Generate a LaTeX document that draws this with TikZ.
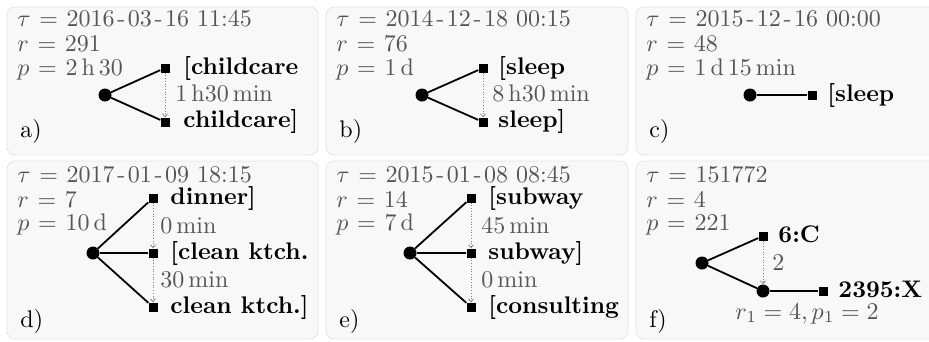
\documentclass[tikz,border=0pt]{standalone}
\usetikzlibrary{arrows.meta}
\definecolor{panelfill}{HTML}{F8F8F8}
\definecolor{panelline}{HTML}{E4E4E4}
\definecolor{infogray}{HTML}{555555}
\newcommand\datehy{\kern1.1pt-\kern1.1pt}
\newcommand\eqsp{\mkern1.5mu=\mkern1.5mu}
\tikzset{
  panel/.style={draw=panelline, fill=panelfill, rounded corners=8pt, line width=0.8pt},
  info/.style={anchor=base west, inner sep=0pt, text=infogray, scale=2.4},
  tag/.style={anchor=base west, inner sep=0pt, scale=2.4},
  act/.style={anchor=base west, inner sep=0pt, font=\bfseries, scale=2.4},
  leaf/.style={rectangle, fill=black, minimum size=9pt, inner sep=0pt},
  root/.style={circle, fill=black, minimum size=13pt, inner sep=0pt},
  edge/.style={line width=1.8pt},
  seq/.style={dotted, draw=gray, line width=0.7pt, -{Straight Barb[length=3pt,width=5pt]}},
}
\begin{document}
\begin{tikzpicture}[x=1pt,y=-1pt]
\useasboundingbox (0,0) rectangle (929,341);
% panels
\draw[panel] (7,7) rectangle (318,155);
\draw[panel] (326,7) rectangle (628,155);
\draw[panel] (636,7) rectangle (940,155);
\draw[panel] (7,161) rectangle (318,339);
\draw[panel] (326,161) rectangle (628,339);
\draw[panel] (636,161) rectangle (940,339);

% ---- a)
\node[info] (ta1) at (17,26.7) {$\tau \eqsp {}$2016\datehy03\datehy16 11:45};
\node[info] (ra1) at (17,51) {$r \eqsp 291$};
\node[info] (pa1) at (17,75) {$p \eqsp 2\,\mathrm{h}\,30$};
\node[root] (a0) at (105,95) {};
\node[leaf] (a1) at (165,68) {};
\node[leaf] (a2) at (165,122) {};
\draw[edge] (a0) -- (a1);
\draw[edge] (a0) -- (a2);
\draw[seq] (a1) -- (a2);
\node[act] (la1) at (183,74) {[childcare};
\node[act] (la2) at (183,127.5) {childcare]};
\node[info] (da1) at (175,101.5) {1\,h30\,min};
\node[tag] (ca) at (20,137) {a)};

% ---- b)
\node[info] (tb1) at (336,26.7) {$\tau \eqsp {}$2014\datehy12\datehy18 00:15};
\node[info] (rb1) at (336,51) {$r \eqsp 76$};
\node[info] (pb1) at (336,75) {$p \eqsp 1\,\mathrm{d}$};
\node[root] (b0) at (422,95) {};
\node[leaf] (b1) at (483,68) {};
\node[leaf] (b2) at (483,122) {};
\draw[edge] (b0) -- (b1);
\draw[edge] (b0) -- (b2);
\draw[seq] (b1) -- (b2);
\node[act] (lb1) at (498,74) {[sleep};
\node[act] (lb2) at (498,127.5) {sleep]};
\node[info] (db1) at (492,101.5) {8\,h30\,min};
\node[tag] (cb) at (339,137) {b)};

% ---- c)
\node[info] (tc1) at (646,26.7) {$\tau \eqsp {}$2015\datehy12\datehy16 00:00};
\node[info] (rc1) at (646,51) {$r \eqsp 48$};
\node[info] (pc1) at (646,75) {$p \eqsp 1\,\mathrm{d}\,15\,\mathrm{min}$};
\node[root] (c0) at (750,95) {};
\node[leaf] (c1) at (812,95) {};
\draw[edge] (c0) -- (c1);
\node[act] (lc1) at (827,101) {[sleep};
\node[tag] (cc) at (649,137) {c)};

% ---- d)
\node[info] (td1) at (17,182) {$\tau \eqsp {}$2017\datehy01\datehy09 18:15};
\node[info] (rd1) at (17,207) {$r \eqsp 7$};
\node[info] (pd1) at (17,230.5) {$p \eqsp 10\,\mathrm{d}$};
\node[root] (d0) at (93,253) {};
\node[leaf] (d1) at (153,198) {};
\node[leaf] (d2) at (153,253) {};
\node[leaf] (d3) at (153,307) {};
\draw[edge] (d0) -- (d1);
\draw[edge] (d0) -- (d2);
\draw[edge] (d0) -- (d3);
\draw[seq] (d1) -- (d2);
\draw[seq] (d2) -- (d3);
\node[act] (ld1) at (170,204) {dinner]};
\node[act] (ld2) at (170,259) {[clean ktch.};
\node[act] (ld3) at (170,313) {clean ktch.]};
\node[info] (dd1) at (160,233) {0\,min};
\node[info] (dd2) at (160,287) {30\,min};
\node[tag] (cd) at (20,327) {d)};

% ---- e)
\node[info] (te1) at (336,182) {$\tau \eqsp {}$2015\datehy01\datehy08 08:45};
\node[info] (re1) at (336,207) {$r \eqsp 14$};
\node[info] (pe1) at (336,230.5) {$p \eqsp 7\,\mathrm{d}$};
\node[root] (e0) at (410,253) {};
\node[leaf] (e1) at (471,198) {};
\node[leaf] (e2) at (471,253) {};
\node[leaf] (e3) at (471,307) {};
\draw[edge] (e0) -- (e1);
\draw[edge] (e0) -- (e2);
\draw[edge] (e0) -- (e3);
\draw[seq] (e1) -- (e2);
\draw[seq] (e2) -- (e3);
\node[act] (le1) at (488,204) {[subway};
\node[act] (le2) at (488,259) {subway]};
\node[act] (le3) at (488,313) {[consulting};
\node[info] (de1) at (481,233) {45\,min};
\node[info] (de2) at (481,287) {0\,min};
\node[tag] (ce) at (339,327) {e)};

% ---- f)
\node[info] (tf1) at (646,182) {$\tau \eqsp 151772$};
\node[info] (rf1) at (646,207) {$r \eqsp 4$};
\node[info] (pf1) at (646,230.5) {$p \eqsp 221$};
\node[root] (f0) at (702,263) {};
\node[leaf] (f1) at (763,236) {};
\node[root] (f2) at (763,291) {};
\node[leaf] (f3) at (823,291) {};
\draw[edge] (f0) -- (f1);
\draw[edge] (f0) -- (f2);
\draw[edge] (f2) -- (f3);
\draw[seq] (f1) -- (f2);
\node[act] (lf1) at (778,242) {6:C};
\node[act] (lf3) at (838,297) {2395:X};
\node[info] (df1) at (772,270) {2};
\node[info, anchor=base] (rf2) at (807,319) {$r_1 = 4, p_1 = 2$};
\node[tag] (cf) at (649,327) {f)};
\end{tikzpicture}
\end{document}
